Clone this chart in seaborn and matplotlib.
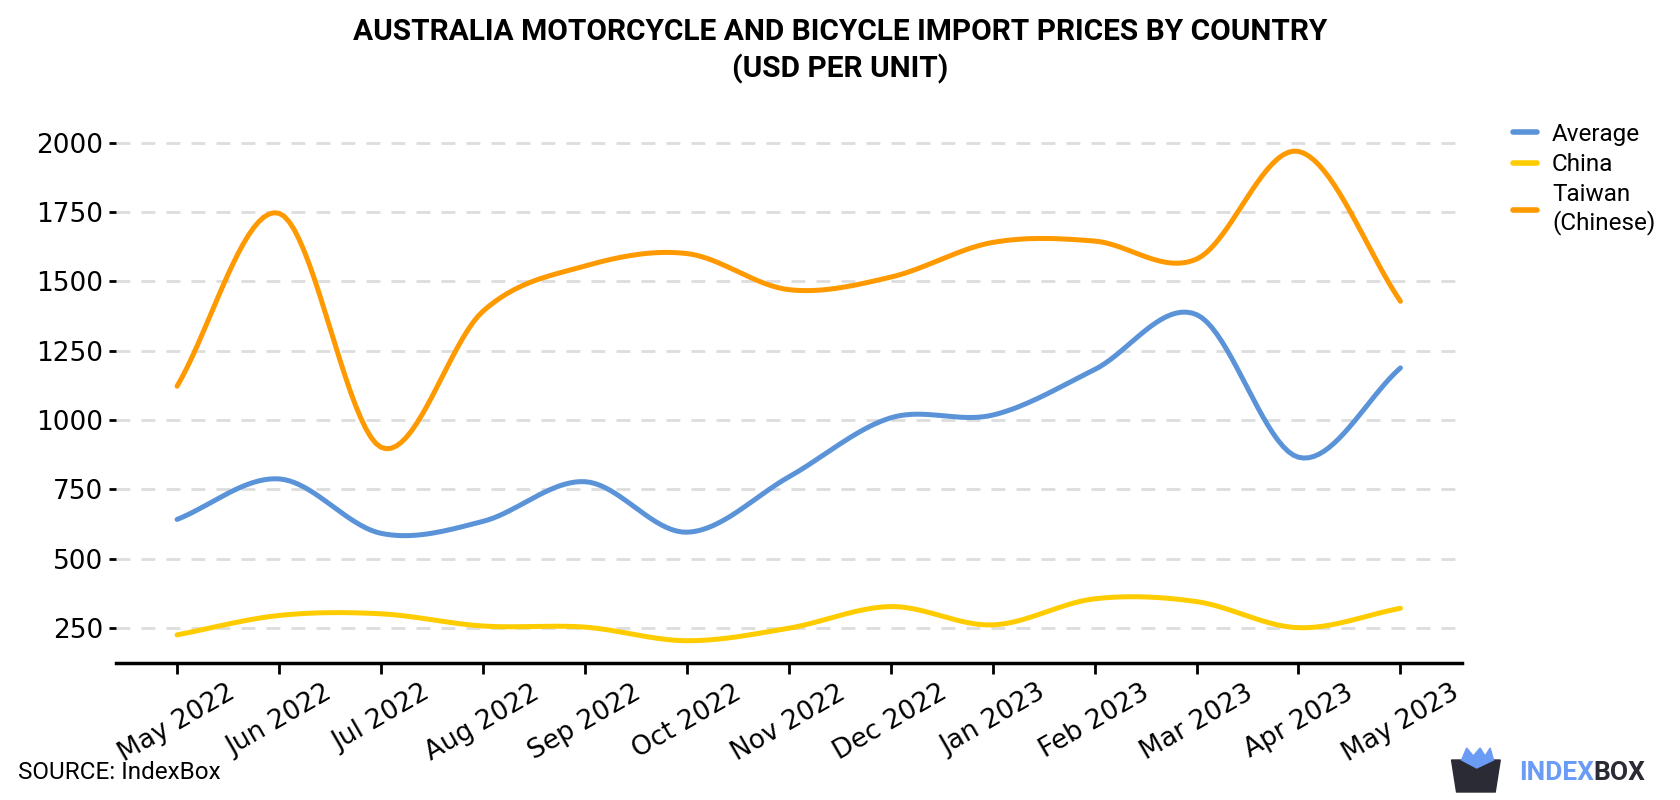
import matplotlib
matplotlib.use('Agg')
import matplotlib.pyplot as plt
import matplotlib.patches as mpatches
import numpy as np
import pandas as pd
import seaborn as sns

months = ['May 2022', 'Jun 2022', 'Jul 2022', 'Aug 2022', 'Sep 2022', 'Oct 2022', 'Nov 2022',
          'Dec 2022', 'Jan 2023', 'Feb 2023', 'Mar 2023', 'Apr 2023', 'May 2023']
average = [642, 788, 592, 635, 778, 596, 795, 1008, 1018, 1182, 1380, 866, 1188]
china = [226, 296, 302, 258, 254, 205, 250, 328, 262, 356, 346, 252, 322]
taiwan = [1122, 1745, 902, 1392, 1555, 1600, 1470, 1515, 1640, 1645, 1580, 1968, 1428]

series_names = ['Average', 'China', 'Taiwan\n(Chinese)']
colors = ['#5b93d8', '#ffcc00', '#ff9900']


def smooth(values, n=20):
    # catmull-rom curve through the monthly points
    y = np.asarray(values, dtype=float)
    p = np.concatenate([[2 * y[0] - y[1]], y, [2 * y[-1] - y[-2]]])
    xs, ys = [], []
    for i in range(len(y) - 1):
        t = np.linspace(0, 1, n, endpoint=False)
        p0, p1, p2, p3 = p[i], p[i + 1], p[i + 2], p[i + 3]
        seg = 0.5 * ((2 * p1) + (-p0 + p2) * t + (2 * p0 - 5 * p1 + 4 * p2 - p3) * t ** 2
                     + (-p0 + 3 * p1 - 3 * p2 + p3) * t ** 3)
        xs.append(i + t)
        ys.append(seg)
    xs.append([len(y) - 1])
    ys.append([y[-1]])
    return np.concatenate(xs), np.concatenate(ys)


frames = []
for name, vals in zip(series_names, [average, china, taiwan]):
    sx, sy = smooth(vals)
    frames.append(pd.DataFrame({'x': sx, 'value': sy, 'series': name}))
df = pd.concat(frames, ignore_index=True)

sns.set_style('white')
plt.rcParams['font.family'] = ['DejaVu Sans']
plt.rcParams['text.color'] = 'black'
plt.rcParams['xtick.color'] = 'black'
plt.rcParams['ytick.color'] = 'black'

fig = plt.figure(figsize=(16.8, 8), dpi=100)
ax = fig.add_axes([0.069, 0.171, 0.801, 0.689])

sns.lineplot(data=df, x='x', y='value', hue='series', palette=dict(zip(series_names, colors)),
             linewidth=3.6, ax=ax, sort=False, estimator=None)

ax.set_xlim(-0.6, 12.6)
ax.set_ylim(124, 2110)
ax.set_yticks([250, 500, 750, 1000, 1250, 1500, 1750, 2000])
ax.set_xticks(range(len(months)))
ax.set_xticklabels(months, rotation=30, ha='center')
ax.tick_params(axis='y', labelsize=19, length=5, width=2, pad=4, left=True)
ax.tick_params(axis='x', labelsize=19, length=8, width=2, pad=4, bottom=True)
ax.grid(axis='y', linestyle=(0, (5, 4)), color='#dddddd', linewidth=2)
ax.set_axisbelow(True)
ax.set_xlabel('')
ax.set_ylabel('')
for s in ['top', 'right', 'left']:
    ax.spines[s].set_visible(False)
ax.spines['bottom'].set_linewidth(2.5)
ax.spines['bottom'].set_color('black')

ax.legend(handles=[plt.Line2D([], [], color=c, lw=4) for c in colors], labels=series_names,
          loc='upper left', bbox_to_anchor=(1.022, 1.02), frameon=False, handlelength=1.0,
          handletextpad=0.6, labelspacing=0.3, prop={'family': 'Roboto', 'size': 17.5})

fig.text(0.5, 0.978, 'AUSTRALIA MOTORCYCLE AND BICYCLE IMPORT PRICES BY COUNTRY\n(USD PER UNIT)',
         ha='center', va='top', fontsize=21.5, fontweight='bold', family='Roboto', linespacing=1.35)
fig.text(0.011, 0.034, 'SOURCE: IndexBox', ha='left', va='center', fontsize=17.5, family='Roboto')

# indexbox logo
fig.patches.append(mpatches.Polygon([[0.864, 0.050], [0.893, 0.050], [0.890, 0.010], [0.867, 0.010]],
                                    closed=True, transform=fig.transFigure, color='#2b2b35'))
fig.patches.append(mpatches.Polygon([[0.870, 0.050], [0.873, 0.065], [0.877, 0.055], [0.881, 0.065],
                                     [0.884, 0.055], [0.887, 0.065], [0.889, 0.050], [0.879, 0.040]],
                                    closed=True, transform=fig.transFigure, color='#6a9cf6'))
t1 = fig.text(0.904, 0.034, 'INDEX', ha='left', va='center', fontsize=19, fontweight='bold',
              family='Roboto', color='#6a9cf6')
fig.canvas.draw()
bb = t1.get_window_extent().transformed(fig.transFigure.inverted())
fig.text(bb.x1, 0.034, 'BOX', ha='left', va='center', fontsize=19, fontweight='bold',
         family='Roboto', color='#2b2b35')

fig.savefig('out.png', dpi=100)
